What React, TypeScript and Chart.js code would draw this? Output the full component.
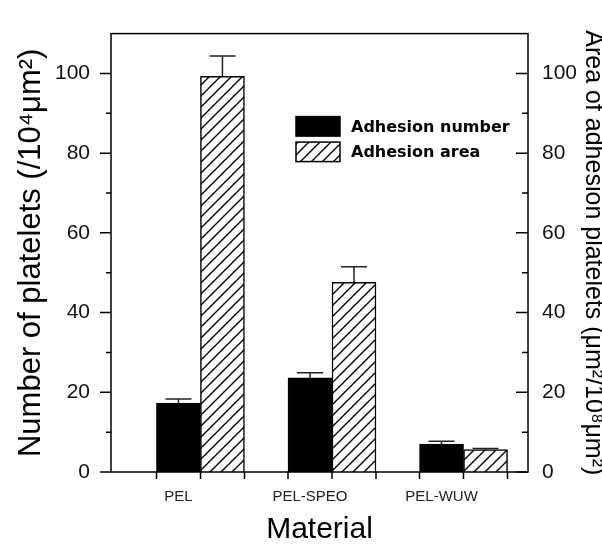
import React, { useEffect, useRef } from 'react';
import { Chart, registerables } from 'chart.js';

Chart.register(...registerables);

// ---- data ----
const categories = ['PEL', 'PEL-SPEO', 'PEL-WUW'];
const seriesNames = ['Adhesion number', 'Adhesion area'];
const adhesionNumber = [17.3, 23.6, 7.0];
const adhesionNumberErr = [1.0, 1.3, 0.7];
const adhesionArea = [99.3, 47.6, 5.6];
const adhesionAreaErr = [5.1, 3.9, 0.3];
const yMajorTicks = [0, 20, 40, 60, 80, 100];
const yMinorTicks = [10, 30, 50, 70, 90];
const yMin = 0;
const yMax = 110;

const FAMILY = '"Liberation Sans", Arial, Helvetica, sans-serif';

function makeHatch(): CanvasPattern | string {
  const s = 11;
  const c = document.createElement('canvas');
  c.width = s;
  c.height = s;
  const g = c.getContext('2d');
  if (!g) return '#fff';
  g.fillStyle = '#fff';
  g.fillRect(0, 0, s, s);
  g.strokeStyle = '#000';
  g.lineWidth = 1.4;
  g.beginPath();
  for (const k of [-s, 0, s]) {
    g.moveTo(k - 1, s + 1);
    g.lineTo(k + s + 1, -1);
  }
  g.stroke();
  return g.createPattern(c, 'repeat') || '#fff';
}

const framePlugin = {
  id: 'frameTicks',
  afterDraw(chart: any) {
    const { ctx, chartArea } = chart;
    const { left, right, top, bottom } = chartArea;
    ctx.save();
    ctx.strokeStyle = '#000';
    ctx.lineWidth = 1.5;
    ctx.strokeRect(left, top, right - left, bottom - top);
    const yl = chart.scales.y;
    const yr = chart.scales.y2;
    ctx.beginPath();
    for (const v of yMajorTicks) {
      const p = yl.getPixelForValue(v);
      ctx.moveTo(left - 11, p);
      ctx.lineTo(left, p);
      const q = yr.getPixelForValue(v);
      ctx.moveTo(right - 12, q);
      ctx.lineTo(right, q);
    }
    for (const v of yMinorTicks) {
      const p = yl.getPixelForValue(v);
      ctx.moveTo(left - 5, p);
      ctx.lineTo(left, p);
      const q = yr.getPixelForValue(v);
      ctx.moveTo(right - 6, q);
      ctx.lineTo(right, q);
    }
    const xs = new Set<number>();
    chart.data.datasets.forEach((_: any, d: number) => {
      const meta = chart.getDatasetMeta(d);
      meta.data.forEach((bar: any) => {
        xs.add(Math.round((bar.x - bar.width / 2) * 2) / 2);
        xs.add(Math.round((bar.x + bar.width / 2) * 2) / 2);
      });
    });
    xs.forEach((x) => {
      ctx.moveTo(x, bottom);
      ctx.lineTo(x, bottom + 7);
    });
    ctx.stroke();
    ctx.restore();
  },
};

const errorBarPlugin = {
  id: 'errorBars',
  afterDatasetsDraw(chart: any) {
    const { ctx } = chart;
    ctx.save();
    ctx.strokeStyle = '#222';
    ctx.lineWidth = 1.5;
    chart.data.datasets.forEach((ds: any, d: number) => {
      const meta = chart.getDatasetMeta(d);
      const scale = chart.scales[ds.yAxisID];
      meta.data.forEach((bar: any, i: number) => {
        const v = ds.data[i].y;
        const e = ds.errors[i];
        const yTop = scale.getPixelForValue(v + e);
        ctx.beginPath();
        ctx.moveTo(bar.x, bar.y);
        ctx.lineTo(bar.x, yTop);
        ctx.moveTo(bar.x - 13, yTop);
        ctx.lineTo(bar.x + 13, yTop);
        ctx.stroke();
      });
    });
    ctx.restore();
  },
};

const legendPlugin = {
  id: 'insideLegend',
  afterDraw(chart: any) {
    const { ctx, chartArea } = chart;
    const x0 = chartArea.left + 185;
    const y0 = chartArea.top + 83;
    ctx.save();
    ctx.font = 'bold 16px "DejaVu Sans", sans-serif';
    ctx.textBaseline = 'middle';
    ctx.textAlign = 'left';
    chart.data.datasets.forEach((ds: any, i: number) => {
      const by = y0 + i * 25.5;
      ctx.fillStyle = ds.backgroundColor;
      ctx.fillRect(x0, by, 44, 19.5);
      ctx.strokeStyle = '#000';
      ctx.lineWidth = 1.5;
      ctx.strokeRect(x0, by, 44, 19.5);
      ctx.fillStyle = '#000';
      ctx.fillText(ds.label, x0 + 55, by + 11);
    });
    ctx.restore();
  },
};

export default function App() {
  const ref = useRef<HTMLCanvasElement | null>(null);
  useEffect(() => {
    if (!ref.current) return;
    const hatch = makeHatch();
    const tickFont = { family: FAMILY, size: 21 };
    const chart = new Chart(ref.current, {
      type: 'bar',
      data: {
        datasets: [
          {
            label: seriesNames[0],
            data: adhesionNumber.map((v, i) => ({ x: i + 1, y: v })),
            backgroundColor: '#000',
            borderColor: '#000',
            borderWidth: 1.5,
            yAxisID: 'y',
            errors: adhesionNumberErr,
          } as any,
          {
            label: seriesNames[1],
            data: adhesionArea.map((v, i) => ({ x: i + 1, y: v })),
            backgroundColor: hatch,
            borderColor: '#000',
            borderWidth: 1.5,
            yAxisID: 'y2',
            errors: adhesionAreaErr,
          } as any,
        ],
      },
      options: {
        responsive: false,
        animation: false,
        layout: { padding: { top: 15, left: 0, right: 0, bottom: 0 } },
        datasets: { bar: { barThickness: 44 } },
        plugins: { legend: { display: false }, tooltip: { enabled: false } },
        scales: {
          x: {
            type: 'linear',
            offset: false,
            min: 0.32,
            max: 3.49,
            grid: { display: false, drawTicks: false, offset: false },
            border: { display: false },
            afterBuildTicks: (s: any) => {
              s.ticks = categories.map((_, i) => ({ value: i + 1 }));
            },
            afterFit: (s: any) => {
              s.height = 73;
            },
            ticks: {
              autoSkip: false,
              maxRotation: 0,
              labelOffset: -22,
              padding: 16,
              color: '#222',
              font: { family: FAMILY, size: 15 },
              callback: (v: any) => categories[Math.round(Number(v)) - 1] ?? '',
            },
            title: {
              display: true,
              text: 'Material',
              color: '#000',
              font: { family: FAMILY, size: 30, lineHeight: '30px' },
              padding: { top: 0, bottom: 0 },
            },
          },
          y: {
            type: 'linear',
            position: 'left',
            min: yMin,
            max: yMax,
            grid: { display: false, drawTicks: false },
            border: { display: false },
            afterBuildTicks: (s: any) => {
              s.ticks = yMajorTicks.map((v) => ({ value: v }));
            },
            afterFit: (s: any) => {
              s.width = 111;
            },
            ticks: { padding: 21, color: '#111', font: tickFont },
            title: {
              display: true,
              text: 'Number of platelets (/10⁴μm²)',
              color: '#000',
              font: { family: FAMILY, size: 31, lineHeight: '30px' },
              padding: { top: 16, bottom: 0 },
            },
          },
          y2: {
            type: 'linear',
            position: 'right',
            min: yMin,
            max: yMax,
            grid: { display: false, drawTicks: false },
            border: { display: false },
            afterBuildTicks: (s: any) => {
              s.ticks = yMajorTicks.map((v) => ({ value: v }));
            },
            afterFit: (s: any) => {
              s.width = 74;
            },
            ticks: { padding: 14, color: '#111', font: tickFont },
            title: {
              display: true,
              text: 'Area of adhesion platelets (μm²/10⁸μm²)',
              color: '#000',
              font: { family: FAMILY, size: 25, lineHeight: '18px' },
              padding: { top: 0, bottom: 0 },
            },
          },
        },
      } as any,
      plugins: [framePlugin, errorBarPlugin, legendPlugin],
    });
    return () => chart.destroy();
  }, []);
  return (
    <div style={{ position: 'absolute', left: 0, top: 0, width: 602, height: 545, background: '#fff' }}>
      <canvas ref={ref} width={602} height={545} style={{ width: 602, height: 545, display: 'block' }} />
    </div>
  );
}
